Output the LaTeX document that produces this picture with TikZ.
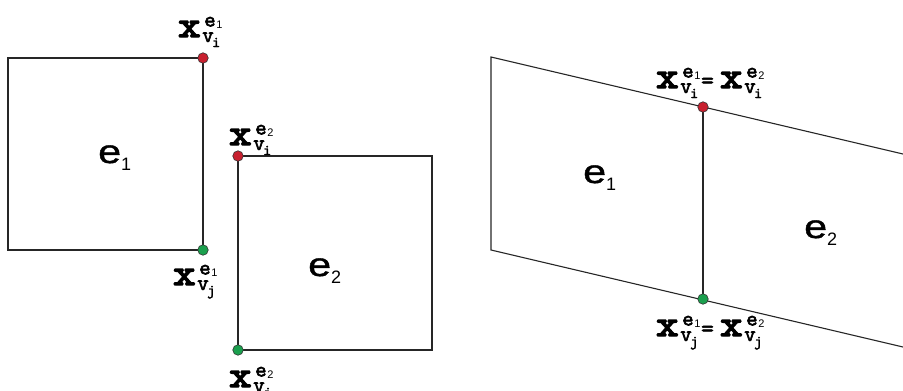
\documentclass[tikz,border=0pt]{standalone}
\usepackage{fontspec}
\newfontfamily\mymono{lmmono10-regular.otf}[FakeBold=4]
\newfontfamily\mymonob{lmmono10-regular.otf}[FakeBold=2.5]
\newfontfamily\mysans{Liberation Sans}
\newfontfamily\mysansb{Liberation Sans}[FakeBold=1.2]
\definecolor{dotred}{HTML}{C8202F}
\definecolor{dotgreen}{HTML}{1BA04E}
\newcommand\xlab[3][24pt]{\makebox[#1][l]{\mymono\fontsize{37}{37}\selectfont\scalebox{1.15}[1]{x}}%
\makebox[21pt][l]{\rlap{\raisebox{-5pt}{\mymonob\fontsize{22}{22}\selectfont v\kern-1.5pt\raisebox{-5pt}{\fontsize{15}{15}\selectfont #2}}}%
\kern2pt\raisebox{10.5pt}{\mymonob\fontsize{22}{22}\selectfont e\kern0.5pt\raisebox{-1.5pt}{\mysans\fontsize{11}{11}\selectfont #3}}}}
\newcommand\elab[1]{\mysansb\fontsize{33}{33}\selectfont\scalebox{1.25}[1]{e}\raisebox{-7pt}{\mysans\fontsize{18}{18}\selectfont #1}}
\newcommand\eqsign{\makebox[19pt][l]{\mymonob\fontsize{24}{24}\selectfont=}}
\tikzset{
  edge/.style={line width=1.1pt, black!85},
  dot/.style={circle, draw=black!80, line width=0.6pt, minimum size=10.5pt, inner sep=0pt},
  lab/.style={anchor=base west, inner sep=0pt},
}
\begin{document}
\begin{tikzpicture}[x=1pt,y=-1pt]
\useasboundingbox (0,0) rectangle (903,391);
% left square e1
\coordinate (s1tl) at (8,58);
\coordinate (s1bl) at (8,250);
\coordinate (s1tr) at (203,58);
\coordinate (s1br) at (203,250);
\draw[edge] (s1tr) -- (s1tl) -- (s1bl) -- (s1br) -- cycle;
% right square e2
\coordinate (s2tl) at (238,156);
\coordinate (s2bl) at (238,350);
\coordinate (s2tr) at (432,156);
\coordinate (s2br) at (432,350);
\draw[edge] (s2tl) -- (s2tr) -- (s2br) -- (s2bl) -- cycle;
% parallelograms
\coordinate (ptl) at (491,57);
\coordinate (pbl) at (491,250);
\coordinate (pm1) at (703,107);
\coordinate (pm2) at (703,299);
\coordinate (ptr) at (903,154);
\coordinate (pbr) at (903,347);
\draw[edge] (ptr) -- (ptl) -- (pbl) -- (pbr);
\draw[edge] (pm1) -- (pm2);
% dots
\node[dot, fill=dotred] (d1) at (s1tr) {};
\node[dot, fill=dotgreen] (d2) at (s1br) {};
\node[dot, fill=dotred] (d3) at (s2tl) {};
\node[dot, fill=dotgreen] (d4) at (s2bl) {};
\node[dot, fill=dotred] (d5) at (pm1) {};
\node[dot, fill=dotgreen] (d6) at (pm2) {};
% element labels
\node[lab] (e1a) at (98,163) {\elab{1}};
\node[lab] (e2a) at (308,276) {\elab{2}};
\node[lab] (e1b) at (583,183) {\elab{1}};
\node[lab] (e2b) at (804,238) {\elab{2}};
% vertex labels
\node[lab] (l1) at (178,37) {\xlab{i}{1}};
\node[lab] (l2) at (173,285) {\xlab{j}{1}};
\node[lab] (l3) at (229,145) {\xlab{i}{2}};
\node[lab] (l4) at (229,387) {\xlab{j}{2}};
\node[lab] (l5) at (656,88) {\xlab{i}{1}\eqsign\xlab{i}{2}};
\node[lab] (l6) at (656,336) {\xlab{j}{1}\eqsign\xlab{j}{2}};
\end{tikzpicture}
\end{document}
